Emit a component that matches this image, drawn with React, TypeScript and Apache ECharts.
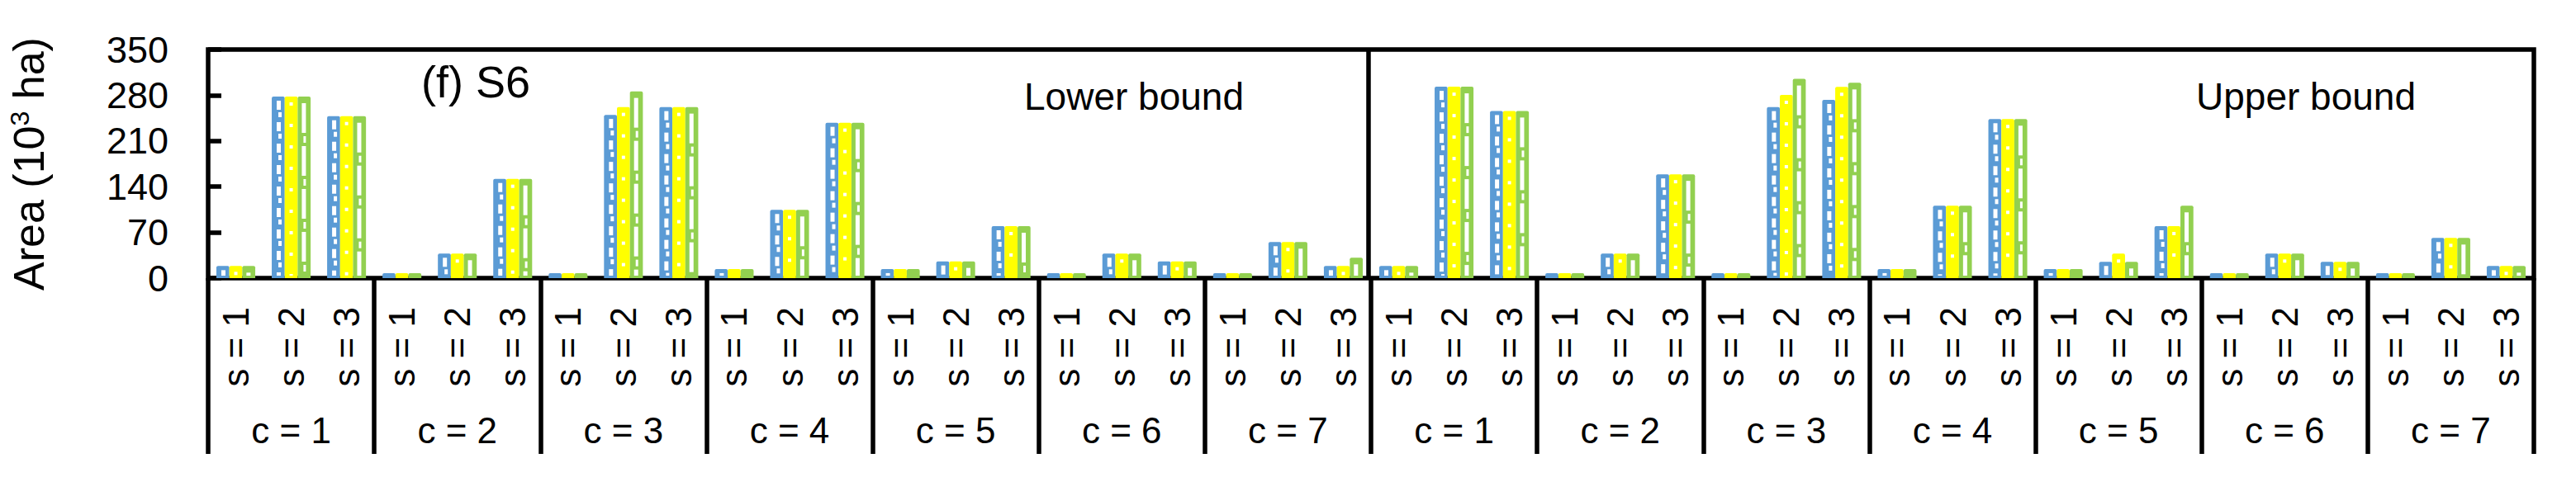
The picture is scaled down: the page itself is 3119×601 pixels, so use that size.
import React, { useEffect, useRef } from "react";
import * as echarts from "echarts";

// ---------- data ----------
const sLabels: string[] = [];
for (let p = 0; p < 14; p++) sLabels.push("s = 1", "s = 2", "s = 3");

const cLabels = [
  "c = 1", "c = 2", "c = 3", "c = 4", "c = 5", "c = 6", "c = 7",
  "c = 1", "c = 2", "c = 3", "c = 4", "c = 5", "c = 6", "c = 7",
];

// order: Lower bound c1..c7 (s1,s2,s3), then Upper bound c1..c7 (s1,s2,s3)
const blueValues = [
  18.5, 278, 248, 7.6, 37.5, 152, 7.6, 250, 262, 14, 104.5, 238, 14, 25.7, 79.6, 7.6, 37.5, 25.7, 7.6, 55.2, 18.5,
  18.5, 293, 256, 7.6, 37.5, 159, 7.6, 262, 273, 14, 110.8, 243.5, 14, 24.9, 79.6, 7.6, 37.5, 24.9, 7.6, 61.5, 18.5,
];
const yellowValues = [
  18.5, 278, 248, 7.6, 37.5, 152, 7.6, 262, 262, 14, 104.5, 238, 14, 25.7, 79.6, 7.6, 37.5, 25.7, 7.6, 55.2, 18.5,
  18.5, 293, 256, 7.6, 37.5, 159, 7.6, 280.5, 292.8, 14, 110.8, 243.5, 14, 37.5, 79.6, 7.6, 37.5, 24.9, 7.6, 61.5, 18.5,
];
const greenValues = [
  18.5, 278, 248, 7.6, 37.5, 152, 7.6, 286, 262, 14, 104.5, 238, 14, 25.7, 79.6, 7.6, 37.5, 25.7, 7.6, 55.2, 31.2,
  18.5, 293, 256, 7.6, 37.5, 159, 7.6, 305, 299, 14, 110.8, 243.5, 14, 24.9, 110.8, 7.6, 37.5, 24.9, 7.6, 61.5, 18.5,
];

const Y_MIN = 0;
const Y_MAX = 350;
const Y_STEP = 70;

// ---------- layout / style ----------
const W = 3119;
const H = 601;
const GRID_LEFT = 246;
const GRID_TOP = 60;
const GRID_W = 2822;
const GRID_H = 277;
const LINE_W = 5.5;
const FONT = "'Liberation Sans', Arial, sans-serif";
const COLORS = ["#5B9BD5", "#FFFF00", "#92D050"];
const WHITE = "#FFFFFF";

function renderBar(k: number) {
  return (params: any, api: any) => {
    const i = api.value(0);
    const v = api.value(1);
    const p0 = api.coord([i, 0]);
    const p1 = api.coord([i, v]);
    const cw = api.size([1, 0])[0];
    const bw = cw * 0.234;
    const x = p0[0] - 1.5 * bw + k * bw;
    const top = p1[1];
    const bottom = p0[1];
    const h = bottom - top;
    const children: any[] = [
      {
        type: "rect",
        shape: { x, y: top, width: bw, height: h, r: [2, 2, 0, 0] },
        style: { fill: COLORS[k] },
      },
    ];
    const add = (rx: number, ry: number, rw: number, rh: number) => {
      const y2 = Math.min(ry + rh, bottom - 3);
      if (ry < top + 3 || y2 - ry < 1.5) return;
      children.push({
        type: "rect",
        shape: { x: rx, y: ry, width: rw, height: y2 - ry },
        style: { fill: WHITE },
      });
    };
    if (k === 0) {
      for (let yy = top + 5; yy < bottom; yy += 26) {
        add(x + 6, yy, 5, 11);
        add(x + 8, yy + 14, 4, 6);
      }
    } else if (k === 1) {
      const cx = x + bw / 2;
      for (let yy = top + 7; yy < bottom; yy += 26) {
        add(cx - 2, yy, 4, 4);
      }
    } else {
      for (let yy = top + 8; yy < bottom; yy += 52) {
        add(x + 5, yy, 5, 36);
        add(x + 7, yy + 40, 3, 8);
      }
    }
    return { type: "group", children };
  };
}

function toData(vals: number[]) {
  return vals.map((v, i) => [i, v]);
}

export default function App() {
  const ref = useRef<HTMLDivElement>(null);
  useEffect(() => {
    if (!ref.current) return;
    const chart = echarts.init(ref.current, undefined, { renderer: "svg" });
    const midX = GRID_LEFT + GRID_W / 2;
    const option: any = {
      animation: false,
      backgroundColor: "#FFFFFF",
      grid: {
        left: GRID_LEFT,
        top: GRID_TOP,
        width: GRID_W,
        height: GRID_H,
        show: true,
        borderColor: "#000",
        borderWidth: LINE_W,
        backgroundColor: "transparent",
      },
      xAxis: [
        {
          type: "category",
          data: sLabels,
          position: "bottom",
          axisLine: { show: false },
          axisTick: { show: false },
          splitLine: { show: false },
          axisLabel: {
            interval: 0,
            rotate: 90,
            margin: 35,
            fontSize: 44,
            fontFamily: FONT,
            color: "#000",
          },
        },
        {
          type: "category",
          data: cLabels,
          position: "bottom",
          axisLine: { show: false },
          axisTick: {
            show: true,
            interval: 0,
            length: 213,
            lineStyle: { color: "#000", width: LINE_W },
          },
          splitLine: { show: false },
          axisLabel: {
            interval: 0,
            margin: 162,
            fontSize: 44,
            fontFamily: FONT,
            color: "#000",
          },
        },
      ],
      yAxis: {
        type: "value",
        min: Y_MIN,
        max: Y_MAX,
        interval: Y_STEP,
        axisLine: { show: false },
        axisTick: {
          show: true,
          inside: true,
          length: 16,
          lineStyle: { color: "#000", width: LINE_W },
        },
        splitLine: { show: false },
        axisLabel: {
          margin: 48,
          fontSize: 45,
          fontFamily: FONT,
          color: "#000",
        },
        name: "{a|Area (10}{b|3}{a| ha)}",
        nameLocation: "middle",
        nameGap: 190,
        nameRotate: 90,
        nameTextStyle: {
          color: "#000",
          rich: {
            a: { fontSize: 52, fontFamily: FONT, color: "#000", lineHeight: 54 },
            b: { fontSize: 32, fontFamily: FONT, color: "#000", verticalAlign: "top", lineHeight: 54 },
          },
        },
      },
      series: [0, 1, 2].map((k) => ({
        type: "custom",
        xAxisIndex: 0,
        yAxisIndex: 0,
        renderItem: renderBar(k),
        encode: { x: 0, y: 1 },
        data: toData([blueValues, yellowValues, greenValues][k]),
        z: 2,
      })),
      graphic: [
        {
          type: "line",
          shape: { x1: midX, y1: GRID_TOP, x2: midX, y2: GRID_TOP + GRID_H },
          style: { stroke: "#000", lineWidth: LINE_W },
          z: 10,
        },
        {
          type: "text",
          left: 510,
          top: 72,
          style: { text: "(f) S6", fontSize: 54, fontFamily: FONT, fill: "#000" },
        },
        {
          type: "text",
          left: 1240,
          top: 94,
          style: { text: "Lower bound", fontSize: 46, fontFamily: FONT, fill: "#000" },
        },
        {
          type: "text",
          left: 2659,
          top: 94,
          style: { text: "Upper bound", fontSize: 46, fontFamily: FONT, fill: "#000" },
        },
      ],
    };
    chart.setOption(option);
    return () => chart.dispose();
  }, []);
  return (
    <div
      ref={ref}
      style={{ position: "fixed", left: 0, top: 0, width: W, height: H, background: "#fff" }}
    />
  );
}
